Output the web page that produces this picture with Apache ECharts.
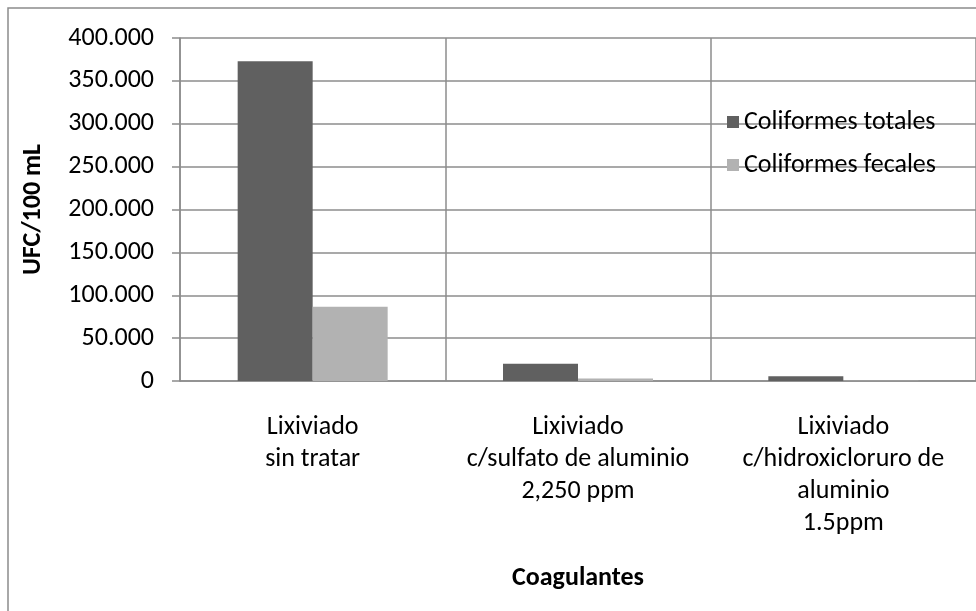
<!DOCTYPE html>
<html lang="es">
  <head>
    <meta charset="UTF-8" />
    <title>Coliformes por coagulante</title>
    <script src="https://cdn.jsdelivr.net/npm/echarts@6/dist/echarts.min.js"></script>
    <style>
      html, body { margin: 0; padding: 0; background: #fff; }
      #main { width: 976px; height: 611px; }
    </style>
  </head>
  <body>
    <div id="main"></div>
    <script>
      const categories = [
        'Lixiviado\nsin tratar',
        'Lixiviado\nc/sulfato de aluminio\n2,250 ppm',
        'Lixiviado\nc/hidroxicloruro de\naluminio\n1.5ppm',
      ];
      const totales = [373000, 20000, 5500];
      const fecales = [86500, 3000, 300];

      const font = 'Carlito, Lato, "Open Sans", sans-serif';
      const gridColor = '#8c8c8c';

      function fmt(v) {
        return String(v).replace(/\B(?=(\d{3})+(?!\d))/g, '.');
      }

      function bar(name, data, color) {
        return {
          name: name,
          type: 'bar',
          data: data,
          barWidth: 75,
          barGap: '0%',
          itemStyle: { color: color },
        };
      }

      const chart = echarts.init(document.getElementById('main'));
      chart.setOption({
        animation: false,
        textStyle: { fontFamily: font },
        graphic: [
          {
            type: 'rect',
            shape: { x: 8, y: 8, width: 1000, height: 700 },
            style: { fill: 'none', stroke: '#8c8c8c', lineWidth: 1.5 },
            z: -1,
          },
        ],
        grid: { left: 180, top: 38, right: 0, bottom: 230 },
        legend: {
          orient: 'vertical',
          left: 722,
          top: 104,
          itemWidth: 12,
          itemHeight: 12,
          itemGap: 17,
          icon: 'rect',
          textStyle: { fontFamily: font, fontSize: 26, color: '#000' },
          data: ['Coliformes totales', 'Coliformes fecales'],
        },
        xAxis: {
          type: 'category',
          data: categories,
          name: 'Coagulantes',
          nameLocation: 'middle',
          nameGap: 184,
          nameTextStyle: { fontFamily: font, fontSize: 26, fontWeight: 'bold', color: '#000' },
          axisLine: { lineStyle: { color: gridColor, width: 1.5 } },
          axisTick: { length: 7, lineStyle: { color: gridColor, width: 1.5 } },
          axisLabel: {
            fontFamily: font,
            fontSize: 26,
            lineHeight: 32,
            color: '#000',
            margin: 30,
            interval: 0,
            verticalAlign: 'top',
          },
          splitLine: { show: true, lineStyle: { color: gridColor, width: 1.5 } },
        },
        yAxis: {
          type: 'value',
          min: 0,
          max: 400000,
          interval: 50000,
          name: 'UFC/100 mL',
          nameLocation: 'middle',
          nameGap: 134,
          nameRotate: 90,
          nameTextStyle: { fontFamily: font, fontSize: 26, fontWeight: 'bold', color: '#000' },
          axisLine: { show: true, lineStyle: { color: gridColor, width: 1.5 } },
          axisTick: { show: true, length: 8, lineStyle: { color: gridColor, width: 1.5 } },
          axisLabel: {
            fontFamily: font,
            fontSize: 26,
            color: '#000',
            margin: 26,
            formatter: fmt,
          },
          splitLine: { lineStyle: { color: gridColor, width: 1.5 } },
        },
        series: [
          bar('Coliformes totales', totales, '#606060'),
          bar('Coliformes fecales', fecales, '#b2b2b2'),
        ],
      });
    </script>
  </body>
</html>
